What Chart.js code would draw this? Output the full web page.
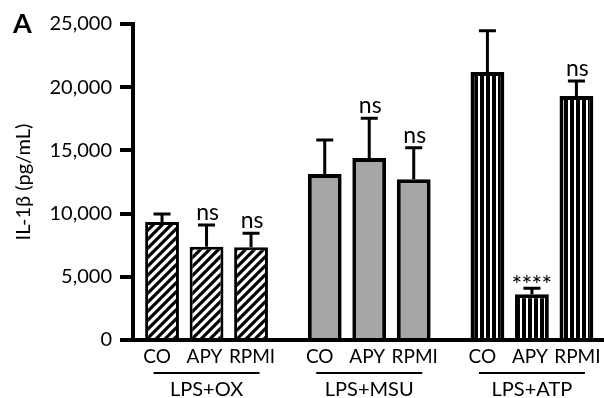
<!DOCTYPE html>
<html>
<head>
<meta charset="utf-8">
<script src="https://cdn.jsdelivr.net/npm/chart.js@4.4.1/dist/chart.umd.min.js"></script>
<style>
  html, body { margin: 0; padding: 0; background: #fff; }
  #wrap { width: 604px; height: 398px; }
</style>
</head>
<body>
<div id="wrap"><canvas id="chart"></canvas></div>
<script>
// Groupes (stimulus) et traitements
const groups = ['LPS+OX', 'LPS+MSU', 'LPS+ATP'];
const treatments = ['CO', 'APY', 'RPMI'];

// Moyennes IL-1β (pg/mL) et SEM
const coMean = [9330, 13130, 21200];
const coSem = [640, 2690, 3270];
const apyMean = [7380, 14400, 3615];
const apySem = [1720, 3140, 475];
const rpmiMean = [7330, 12710, 19300];
const rpmiSem = [1110, 2500, 1190];

// Significativité vs CO
const coSig = ['', '', ''];
const apySig = ['ns', 'ns', '****'];
const rpmiSig = ['ns', 'ns', 'ns'];

const yMax = 25000;
const yStep = 5000;

const FONT = "Lato, 'Open Sans', sans-serif";
// petit décalage horizontal des noms de traitement (comme sur la figure)
const labelShift = [-5, -2, 1];

// Motifs de remplissage
function hatchPattern() {
    const c = document.createElement('canvas');
    c.width = 9; c.height = 9;
    const g = c.getContext('2d');
    g.fillStyle = '#fff';
    g.fillRect(0, 0, 9, 9);
    g.strokeStyle = '#000';
    g.lineWidth = 3.2;
    g.beginPath();
    g.moveTo(-2, 11); g.lineTo(11, -2);
    g.moveTo(-11, 11); g.lineTo(2, -2);
    g.moveTo(7, 11); g.lineTo(20, -2);
    g.stroke();
    return g.createPattern(c, 'repeat');
}

function stripePattern() {
    const c = document.createElement('canvas');
    c.width = 6; c.height = 4;
    const g = c.getContext('2d');
    g.fillStyle = '#000';
    g.fillRect(0, 0, 6, 4);
    g.fillStyle = '#fff';
    g.fillRect(4, 0, 2, 4);
    return g.createPattern(c, 'repeat');
}

const fills = [hatchPattern(), '#a6a6a6', stripePattern()];
const borders = [3, 4, 4];

function makeDataset(label, means, sems, sig) {
    return {
        label: label,
        data: groups.map((g, i) => ({ x: i, y: means[i] })),
        sem: sems,
        sig: sig,
        backgroundColor: fills,
        borderColor: '#000',
        borderWidth: borders,
        borderSkipped: 'start'
    };
}

// Barres d'erreur + annotations + étiquettes de l'axe X
const annotPlugin = {
    id: 'annot',
    afterDatasetsDraw(chart) {
        const ctx = chart.ctx;
        const yScale = chart.scales.y;
        const xScale = chart.scales.x;
        const area = chart.chartArea;
        ctx.save();
        chart.data.datasets.forEach((ds, di) => {
            const meta = chart.getDatasetMeta(di);
            meta.data.forEach((bar, i) => {
                const yErr = yScale.getPixelForValue(ds.data[i].y + ds.sem[i]);
                ctx.strokeStyle = '#000';
                ctx.lineWidth = 3;
                ctx.beginPath();
                ctx.moveTo(bar.x, bar.y);
                ctx.lineTo(bar.x, yErr);
                ctx.moveTo(bar.x - 8.5, yErr);
                ctx.lineTo(bar.x + 8.5, yErr);
                ctx.stroke();

                const s = ds.sig[i];
                if (s) {
                    ctx.fillStyle = '#000';
                    ctx.textAlign = 'center';
                    ctx.textBaseline = 'alphabetic';
                    if (s === 'ns') {
                        ctx.font = '23px ' + FONT;
                        const m = ctx.measureText(s);
                        ctx.fillText(s, bar.x + 1, yErr - 5 - m.actualBoundingBoxDescent);
                    } else {
                        // astérisques espacées
                        ctx.font = '25px ' + FONT;
                        const step = 10;
                        const n = s.length;
                        const m = ctx.measureText('*');
                        for (let k = 0; k < n; k++) {
                            const x = bar.x + (k - (n - 1) / 2) * step;
                            ctx.fillText('*', x, yErr - 5 - m.actualBoundingBoxDescent);
                        }
                    }
                }

                // Nom du traitement sous la barre
                ctx.fillStyle = '#000';
                ctx.font = '19px ' + FONT;
                ctx.textAlign = 'center';
                ctx.textBaseline = 'middle';
                ctx.fillText(ds.label, bar.x + labelShift[di], area.bottom + 17);
            });
        });

        // Soulignement et nom du groupe
        groups.forEach((g, i) => {
            const cx = xScale.getPixelForValue(i);
            ctx.strokeStyle = '#000';
            ctx.lineWidth = 2;
            ctx.beginPath();
            ctx.moveTo(cx - 53, area.bottom + 33);
            ctx.lineTo(cx + 53, area.bottom + 33);
            ctx.stroke();
            ctx.fillStyle = '#000';
            ctx.font = '20px ' + FONT;
            ctx.textAlign = 'center';
            ctx.textBaseline = 'middle';
            ctx.fillText(g, cx, area.bottom + 50);
        });

        // Lettre du panneau
        ctx.font = 'bold 27px ' + FONT;
        ctx.textAlign = 'left';
        ctx.textBaseline = 'alphabetic';
        ctx.fillText('A', 13, 33);
        ctx.restore();
    }
};

new Chart(document.getElementById('chart'), {
    type: 'bar',
    data: {
        datasets: [
            makeDataset(treatments[0], coMean, coSem, coSig),
            makeDataset(treatments[1], apyMean, apySem, apySig),
            makeDataset(treatments[2], rpmiMean, rpmiSem, rpmiSig)
        ]
    },
    options: {
        responsive: true,
        maintainAspectRatio: false,
        animation: false,
        devicePixelRatio: 1,
        layout: { padding: { left: 8, top: 24, right: 0, bottom: 0 } },
        categoryPercentage: 0.8205,
        barPercentage: 0.76,
        plugins: {
            legend: { display: false },
            tooltip: { enabled: false }
        },
        scales: {
            x: {
                type: 'linear',
                min: -0.452,
                max: 2.443,
                offset: false,
                z: 1,
                ticks: { display: false },
                grid: { display: false },
                border: { display: true, color: '#000', width: 4 },
                // un tick par groupe : la largeur des barres en dépend
                afterBuildTicks(s) { s.ticks = groups.map((g, i) => ({ value: i })); },
                afterFit(s) { s.height = 58; }
            },
            y: {
                min: 0,
                max: yMax,
                z: 1,
                ticks: {
                    stepSize: yStep,
                    color: '#000',
                    padding: 8,
                    font: { family: FONT, size: 20 },
                    callback: v => v.toLocaleString('en-US')
                },
                grid: {
                    display: true,
                    drawOnChartArea: false,
                    drawTicks: true,
                    tickLength: 13,
                    lineWidth: 4,
                    color: '#000'
                },
                border: { display: true, color: '#000', width: 4 },
                title: {
                    display: true,
                    text: 'IL-1β (pg/mL)',
                    color: '#000',
                    font: { family: FONT, size: 20 },
                    padding: { top: 4, bottom: 0 }
                },
                afterFit(s) { s.width = 125; }
            }
        }
    },
    plugins: [annotPlugin]
});
</script>
</body>
</html>
